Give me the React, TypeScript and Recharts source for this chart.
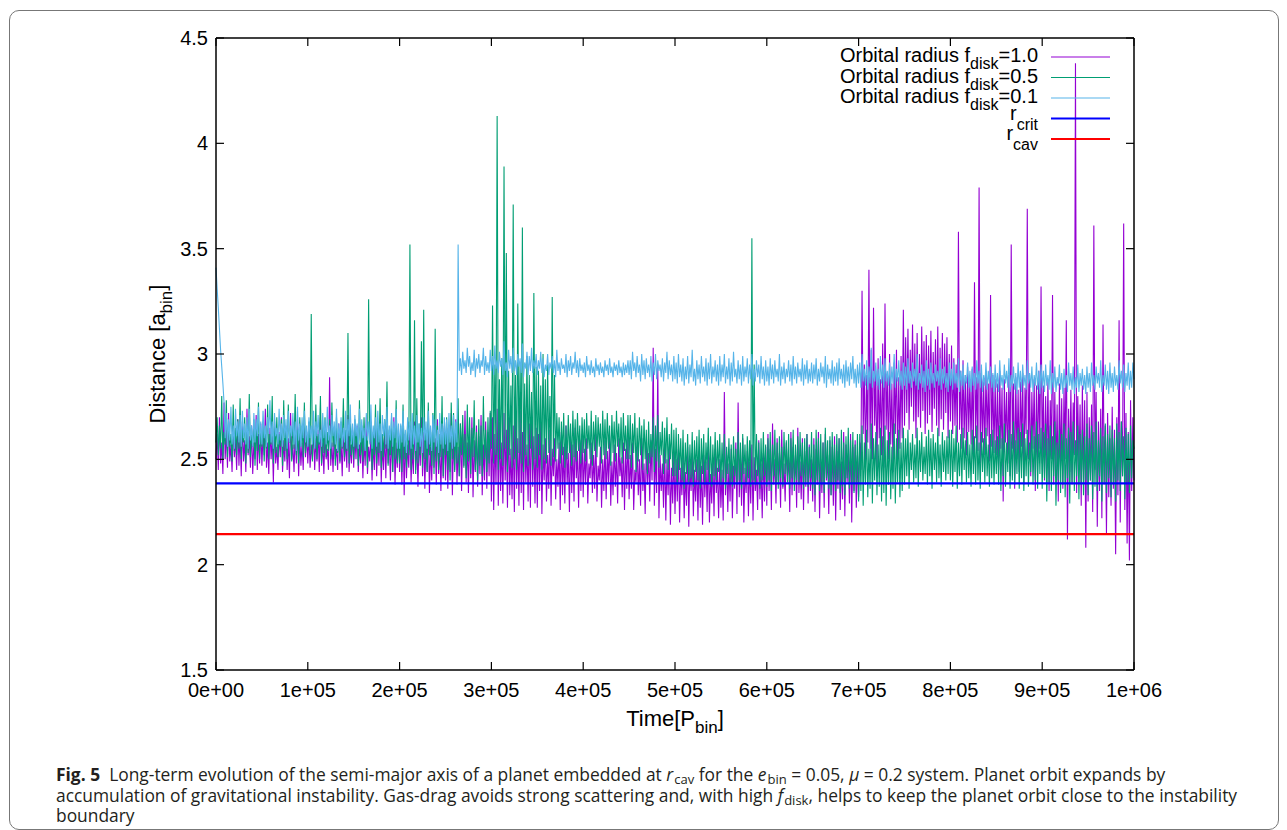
import { LineChart, Line, XAxis, YAxis, ReferenceLine } from 'recharts';

// time grid step of the sampled orbits (P_bin)
const timeStep = 1250;

const xTicks = [0, 100000, 200000, 300000, 400000, 500000, 600000, 700000, 800000, 900000, 1000000];
const yTicks = [1.5, 2, 2.5, 3, 3.5, 4, 4.5];

const rCrit = 2.386;
const rCav = 2.145;

// orbital radius, f_disk = 1.0 (two lines = 5e4 P_bin)
const fdisk10 = [
  2.50, 2.62, 2.45, 2.70, 2.48, 2.58, 2.43, 2.77, 2.50, 2.64, 2.46, 2.72, 2.49, 2.57, 2.44, 2.66, 2.51, 2.60, 2.45, 2.69,
  2.47, 2.63, 2.42, 2.68, 2.49, 2.59, 2.44, 2.74, 2.52, 2.61, 2.46, 2.66, 2.43, 2.58, 2.50, 2.71, 2.45, 2.62, 2.48, 2.67,
  2.47, 2.62, 2.52, 2.74, 2.46, 2.58, 2.43, 2.65, 2.50, 2.61, 2.39, 2.68, 2.48, 2.56, 2.45, 2.63, 2.51, 2.70, 2.44, 2.59,
  2.49, 2.66, 2.45, 2.60, 2.41, 2.72, 2.50, 2.57, 2.44, 2.64, 2.48, 2.69, 2.42, 2.61, 2.47, 2.58, 2.45, 2.67, 2.51, 2.63,
  2.48, 2.62, 2.46, 2.57, 2.50, 2.66, 2.45, 2.60, 2.49, 2.64, 2.44, 2.70, 2.47, 2.58, 2.43, 2.63, 2.50, 2.55, 2.45, 2.89,
  2.47, 2.58, 2.44, 2.63, 2.50, 2.55, 2.45, 2.67, 2.48, 2.59, 2.42, 2.65, 2.49, 2.60, 2.46, 2.71, 2.44, 2.57, 2.48, 2.64,
  2.46, 2.61, 2.50, 2.66, 2.44, 2.57, 2.48, 2.63, 2.41, 2.59, 2.47, 2.70, 2.43, 2.56, 2.49, 2.62, 2.40, 2.58, 2.45, 2.65,
  2.42, 2.60, 2.47, 2.68, 2.39, 2.57, 2.45, 2.63, 2.41, 2.66, 2.48, 2.59, 2.40, 2.62, 2.44, 2.70, 2.38, 2.58, 2.46, 2.64,
  2.44, 2.60, 2.38, 2.66, 2.33, 2.62, 2.41, 2.57, 2.46, 2.66, 2.39, 2.55, 2.43, 2.68, 2.45, 2.58, 2.37, 2.61, 2.47, 2.70,
  2.42, 2.63, 2.36, 2.59, 2.44, 2.67, 2.34, 2.56, 2.40, 2.64, 2.46, 2.60, 2.38, 2.69, 2.43, 2.57, 2.35, 2.62, 2.41, 2.66,
  2.40, 2.65, 2.36, 2.58, 2.44, 2.72, 2.33, 2.60, 2.45, 2.69, 2.38, 2.56, 2.42, 2.67, 2.35, 2.62, 2.47, 2.73, 2.39, 2.58,
  2.34, 2.64, 2.41, 2.70, 2.32, 2.59, 2.44, 2.66, 2.37, 2.61, 2.43, 2.71, 2.33, 2.57, 2.40, 2.68, 2.36, 2.63, 2.42, 2.72,
  2.30, 2.70, 2.26, 2.62, 2.38, 2.74, 2.28, 2.68, 2.35, 2.58, 2.29, 2.72, 2.40, 2.64, 2.27, 2.70, 2.33, 2.55, 2.31, 2.66,
  2.25, 2.71, 2.36, 2.60, 2.28, 2.73, 2.34, 2.63, 2.26, 2.69, 2.39, 2.57, 2.30, 2.67, 2.27, 2.74, 2.37, 2.61, 2.29, 2.65,
  2.27, 2.62, 2.35, 2.68, 2.24, 2.57, 2.40, 2.60, 2.30, 2.52, 2.36, 2.64, 2.28, 2.55, 2.42, 2.60, 2.31, 2.50, 2.37, 2.58,
  2.26, 2.63, 2.33, 2.56, 2.29, 2.66, 2.38, 2.53, 2.25, 2.61, 2.34, 2.57, 2.30, 2.65, 2.41, 2.54, 2.27, 2.59, 2.35, 2.62,
  2.32, 2.55, 2.38, 2.60, 2.29, 2.48, 2.41, 2.58, 2.34, 2.52, 2.36, 2.62, 2.30, 2.47, 2.40, 2.56, 2.27, 2.50, 2.35, 2.59,
  2.31, 2.54, 2.39, 2.61, 2.28, 2.49, 2.33, 2.57, 2.37, 2.53, 2.29, 2.60, 2.42, 2.51, 2.32, 2.58, 2.26, 2.55, 2.36, 2.62,
  2.31, 2.52, 2.36, 2.58, 2.26, 2.45, 2.39, 2.56, 2.33, 2.50, 2.28, 2.60, 2.35, 2.48, 2.24, 2.57, 2.38, 2.53, 2.30, 2.59,
  2.40, 3.03, 2.28, 2.55, 2.34, 2.95, 2.22, 2.52, 2.35, 2.48, 2.27, 2.57, 2.21, 2.50, 2.33, 2.56, 2.19, 2.46, 2.29, 2.54,
  2.24, 2.50, 2.30, 2.55, 2.20, 2.46, 2.33, 2.52, 2.22, 2.44, 2.28, 2.56, 2.18, 2.48, 2.35, 2.53, 2.23, 2.45, 2.30, 2.50,
  2.21, 2.54, 2.27, 2.47, 2.19, 2.52, 2.32, 2.49, 2.25, 2.56, 2.20, 2.43, 2.29, 2.51, 2.23, 2.55, 2.34, 2.46, 2.22, 2.50,
  2.27, 2.45, 2.21, 2.82, 2.33, 2.52, 2.25, 2.48, 2.30, 2.55, 2.22, 2.47, 2.36, 2.58, 2.24, 2.77, 2.32, 2.50, 2.28, 2.60,
  2.20, 2.46, 2.34, 2.54, 2.23, 2.49, 2.29, 2.57, 2.21, 2.51, 2.35, 2.45, 2.26, 2.59, 2.31, 2.48, 2.22, 2.53, 2.30, 2.56,
  2.28, 2.62, 2.35, 2.55, 2.26, 2.67, 2.38, 2.50, 2.29, 2.60, 2.40, 2.53, 2.27, 2.64, 2.36, 2.48, 2.30, 2.58, 2.42, 2.51,
  2.25, 2.63, 2.33, 2.56, 2.39, 2.52, 2.27, 2.65, 2.34, 2.49, 2.31, 2.60, 2.26, 2.54, 2.37, 2.62, 2.29, 2.57, 2.35, 2.50,
  2.30, 2.60, 2.25, 2.55, 2.38, 2.63, 2.22, 2.50, 2.34, 2.58, 2.27, 2.62, 2.40, 2.52, 2.24, 2.59, 2.33, 2.56, 2.28, 2.61,
  2.21, 2.54, 2.36, 2.60, 2.26, 2.49, 2.31, 2.63, 2.23, 2.57, 2.39, 2.53, 2.29, 2.62, 2.20, 2.56, 2.35, 2.59, 2.27, 2.52,
  2.32, 2.58, 2.45, 3.30, 2.62, 2.95, 2.48, 2.90, 2.58, 3.40, 2.55, 3.02, 2.50, 3.22, 2.66, 2.92, 2.42, 2.98, 2.60, 2.88,
  2.52, 3.05, 2.46, 3.24, 2.64, 2.90, 2.50, 3.00, 2.57, 2.86, 2.44, 2.96, 2.62, 3.02, 2.49, 2.89, 2.55, 2.99, 2.60, 3.21,
  2.66, 3.08, 2.72, 3.12, 2.64, 3.02, 2.75, 3.14, 2.68, 3.05, 2.60, 3.10, 2.70, 3.00, 2.65, 3.13, 2.73, 3.06, 2.62, 3.09,
  2.67, 3.04, 2.71, 3.11, 2.63, 3.01, 2.74, 3.07, 2.66, 3.13, 2.61, 3.03, 2.69, 3.10, 2.64, 3.05, 2.72, 3.08, 2.60, 3.00,
  2.68, 3.04, 2.62, 2.98, 2.66, 2.95, 2.58, 3.58, 2.64, 2.92, 2.55, 2.97, 2.60, 2.90, 2.52, 2.94, 2.63, 2.88, 2.57, 2.93,
  2.50, 3.34, 2.60, 2.89, 2.54, 3.79, 2.48, 2.91, 2.58, 2.87, 2.52, 2.92, 2.61, 2.86, 2.49, 3.28, 2.56, 2.90, 2.53, 2.88,
  2.52, 2.86, 2.45, 2.92, 2.55, 2.84, 2.30, 2.88, 2.58, 2.82, 2.48, 2.90, 2.42, 3.52, 2.55, 2.86, 2.36, 2.89, 2.50, 2.83,
  2.44, 2.87, 2.56, 2.91, 2.38, 2.84, 2.62, 3.69, 2.50, 2.90, 2.42, 2.82, 2.55, 2.88, 2.35, 2.85, 2.48, 2.92, 2.55, 3.32,
  2.48, 2.85, 2.40, 2.80, 2.46, 2.88, 2.35, 2.78, 2.50, 3.28, 2.38, 2.82, 2.44, 2.76, 2.30, 2.86, 2.47, 2.79, 2.36, 2.84,
  2.50, 3.16, 2.12, 2.74, 2.44, 2.83, 2.38, 2.77, 2.52, 4.38, 2.34, 2.80, 2.45, 2.76, 2.28, 2.85, 2.40, 2.78, 2.08, 2.82,
  2.30, 2.70, 2.40, 2.76, 2.25, 3.61, 2.45, 2.82, 2.18, 2.68, 2.35, 2.74, 2.22, 3.14, 2.38, 2.66, 2.15, 2.72, 2.32, 2.60,
  2.28, 2.75, 2.36, 2.64, 2.05, 2.70, 2.33, 3.16, 2.20, 2.68, 2.42, 3.62, 2.26, 2.72, 2.10, 2.63, 2.02, 2.78, 2.35, 2.70,
  2.40,
];

// orbital radius, f_disk = 0.5
const fdisk05 = [
  2.58, 2.70, 2.52, 2.66, 2.55, 2.80, 2.50, 2.63, 2.57, 2.78, 2.51, 2.68, 2.56, 2.62, 2.49, 2.76, 2.54, 2.65, 2.52, 2.69,
  2.55, 2.79, 2.50, 2.64, 2.58, 2.70, 2.48, 2.66, 2.53, 2.81, 2.51, 2.62, 2.56, 2.69, 2.47, 2.65, 2.54, 2.77, 2.50, 2.63,
  2.56, 2.68, 2.49, 2.64, 2.55, 2.76, 2.50, 2.62, 2.57, 2.80, 2.48, 2.66, 2.53, 2.70, 2.51, 2.62, 2.56, 2.69, 2.47, 2.78,
  2.54, 2.65, 2.50, 2.76, 2.58, 2.63, 2.49, 2.68, 2.55, 2.81, 2.52, 2.64, 2.48, 2.70, 2.56, 2.66, 2.51, 2.77, 2.53, 2.62,
  2.56, 2.68, 2.52, 3.19, 2.49, 2.64, 2.55, 2.76, 2.50, 2.62, 2.57, 2.80, 2.48, 2.66, 2.53, 2.70, 2.51, 2.63, 2.54, 2.69,
  2.50, 2.77, 2.56, 2.65, 2.47, 2.70, 2.53, 2.62, 2.49, 2.68, 2.55, 2.79, 2.51, 2.64, 2.54, 3.10, 2.48, 2.67, 2.52, 2.63,
  2.50, 2.69, 2.55, 2.64, 2.47, 2.78, 2.52, 2.66, 2.49, 2.70, 2.54, 2.61, 2.46, 3.26, 2.58, 2.68, 2.45, 2.63, 2.52, 2.76,
  2.48, 2.66, 2.53, 2.79, 2.46, 2.62, 2.51, 2.69, 2.55, 2.87, 2.47, 2.64, 2.52, 2.70, 2.44, 2.65, 2.50, 2.78, 2.48, 2.62,
  2.48, 2.66, 2.44, 2.76, 2.50, 2.62, 2.46, 2.68, 2.52, 3.52, 2.45, 2.64, 2.50, 3.16, 2.43, 2.79, 2.48, 2.67, 2.52, 3.06,
  2.46, 3.21, 2.50, 2.64, 2.44, 2.77, 2.52, 2.63, 2.47, 2.72, 2.43, 3.12, 2.49, 2.66, 2.45, 2.62, 2.51, 2.80, 2.42, 2.65,
  2.52, 2.70, 2.45, 2.66, 2.40, 2.77, 2.50, 2.72, 2.44, 2.64, 2.48, 2.79, 2.42, 2.67, 2.52, 2.71, 2.46, 2.62, 2.41, 2.76,
  2.49, 2.70, 2.43, 2.65, 2.51, 2.78, 2.45, 2.63, 2.40, 2.69, 2.47, 2.66, 2.42, 2.80, 2.50, 2.64, 2.44, 2.70, 2.48, 2.73,
  2.55, 3.23, 2.48, 2.95, 2.52, 4.13, 2.45, 2.88, 2.50, 2.98, 2.47, 3.89, 2.55, 3.48, 2.44, 2.92, 2.52, 2.85, 2.46, 3.71,
  2.50, 2.90, 2.45, 3.24, 2.53, 2.96, 2.48, 3.60, 2.44, 2.86, 2.52, 2.99, 2.47, 2.90, 2.55, 2.82, 2.45, 3.29, 2.50, 2.94,
  2.46, 2.92, 2.52, 2.85, 2.45, 3.00, 2.50, 2.88, 2.48, 2.95, 2.53, 2.80, 2.47, 3.27, 2.51, 2.90, 2.49, 2.72, 2.55, 2.70,
  2.48, 2.68, 2.52, 2.72, 2.46, 2.66, 2.50, 2.71, 2.53, 2.67, 2.47, 2.73, 2.51, 2.69, 2.49, 2.72, 2.54, 2.66, 2.48, 2.70,
  2.53, 2.69, 2.49, 2.72, 2.55, 2.66, 2.50, 2.73, 2.47, 2.68, 2.54, 2.71, 2.51, 2.70, 2.56, 2.67, 2.48, 2.73, 2.52, 2.69,
  2.50, 2.72, 2.55, 2.66, 2.47, 2.71, 2.53, 2.68, 2.49, 2.73, 2.56, 2.67, 2.51, 2.70, 2.48, 2.72, 2.54, 2.66, 2.50, 2.71,
  2.50, 2.71, 2.46, 2.67, 2.53, 2.72, 2.44, 2.65, 2.49, 2.70, 2.52, 2.66, 2.45, 2.69, 2.50, 2.64, 2.43, 2.68, 2.48, 2.62,
  2.51, 2.70, 2.44, 2.66, 2.49, 2.71, 2.46, 2.63, 2.52, 2.68, 2.43, 2.65, 2.48, 2.70, 2.45, 2.62, 2.50, 2.67, 2.42, 2.64,
  2.42, 2.65, 2.38, 2.62, 2.45, 2.60, 2.40, 2.64, 2.36, 2.58, 2.43, 2.62, 2.39, 2.57, 2.41, 2.63, 2.37, 2.59, 2.44, 2.61,
  2.40, 2.64, 2.36, 2.60, 2.43, 2.62, 2.38, 2.58, 2.45, 2.65, 2.39, 2.61, 2.37, 2.57, 2.42, 2.63, 2.40, 2.59, 2.44, 2.62,
  2.38, 2.58, 2.41, 2.62, 2.36, 2.56, 2.43, 2.60, 2.39, 2.57, 2.37, 2.61, 2.42, 2.55, 2.38, 2.63, 2.40, 2.58, 2.36, 2.62,
  2.43, 2.57, 2.39, 2.61, 2.41, 2.59, 2.37, 3.55, 2.40, 2.95, 2.38, 2.62, 2.42, 2.58, 2.36, 2.60, 2.40, 2.63, 2.42, 2.57,
  2.37, 2.60, 2.40, 2.63, 2.35, 2.57, 2.42, 2.64, 2.38, 2.58, 2.36, 2.61, 2.41, 2.56, 2.37, 2.63, 2.43, 2.59, 2.39, 2.62,
  2.36, 2.60, 2.41, 2.64, 2.35, 2.57, 2.40, 2.61, 2.38, 2.63, 2.42, 2.58, 2.36, 2.60, 2.39, 2.62, 2.37, 2.56, 2.41, 2.63,
  2.36, 2.57, 2.33, 2.64, 2.40, 2.60, 2.35, 2.62, 2.38, 2.58, 2.34, 2.65, 2.41, 2.59, 2.36, 2.61, 2.33, 2.63, 2.39, 2.57,
  2.35, 2.62, 2.40, 2.60, 2.34, 2.64, 2.37, 2.58, 2.33, 2.61, 2.41, 2.65, 2.36, 2.59, 2.38, 2.63, 2.34, 2.57, 2.39, 2.62,
  2.30, 2.62, 2.35, 2.66, 2.28, 2.58, 2.38, 2.64, 2.32, 2.55, 2.36, 2.67, 2.29, 2.60, 2.40, 2.63, 2.33, 2.57, 2.37, 2.65,
  2.30, 2.61, 2.34, 2.66, 2.28, 2.59, 2.38, 2.63, 2.31, 2.56, 2.36, 2.67, 2.29, 2.60, 2.39, 2.64, 2.32, 2.58, 2.35, 2.65,
  2.38, 2.60, 2.42, 2.64, 2.36, 2.58, 2.45, 2.62, 2.39, 2.57, 2.41, 2.65, 2.37, 2.59, 2.44, 2.63, 2.40, 2.56, 2.43, 2.61,
  2.38, 2.64, 2.42, 2.60, 2.36, 2.62, 2.45, 2.58, 2.39, 2.65, 2.41, 2.57, 2.37, 2.63, 2.44, 2.59, 2.40, 2.61, 2.43, 2.64,
  2.40, 2.64, 2.37, 2.60, 2.44, 2.66, 2.36, 2.58, 2.42, 2.62, 2.38, 2.65, 2.45, 2.59, 2.39, 2.63, 2.41, 2.57, 2.37, 2.64,
  2.43, 2.61, 2.38, 2.66, 2.40, 2.58, 2.36, 2.63, 2.44, 2.60, 2.39, 2.65, 2.42, 2.57, 2.37, 2.62, 2.41, 2.64, 2.38, 2.59,
  2.43, 2.61, 2.38, 2.66, 2.35, 2.60, 2.42, 2.67, 2.37, 2.58, 2.44, 2.64, 2.36, 2.62, 2.40, 2.68, 2.38, 2.59, 2.43, 2.65,
  2.36, 2.63, 2.41, 2.67, 2.35, 2.60, 2.42, 2.64, 2.37, 2.58, 2.44, 2.66, 2.38, 2.61, 2.40, 2.68, 2.36, 2.62, 2.43, 2.65,
  2.36, 2.63, 2.41, 2.67, 2.30, 2.60, 2.39, 2.66, 2.35, 2.61, 2.42, 2.68, 2.28, 2.58, 2.40, 2.64, 2.34, 2.62, 2.38, 2.67,
  2.32, 2.60, 2.41, 2.65, 2.29, 2.63, 2.39, 2.68, 2.35, 2.59, 2.42, 2.66, 2.31, 2.62, 2.38, 2.64, 2.33, 2.61, 2.40, 2.67,
  2.33, 2.60, 2.40, 2.66, 2.31, 2.63, 2.37, 2.68, 2.35, 2.59, 2.42, 2.65, 2.30, 2.61, 2.39, 2.67, 2.34, 2.62, 2.41, 2.66,
  2.32, 2.64, 2.38, 2.60, 2.30, 2.67, 2.40, 2.63, 2.35, 2.68, 2.42, 2.61, 2.31, 2.65, 2.39, 2.62, 2.34, 2.66, 2.41, 2.59,
  2.55,
];

// orbital radius, f_disk = 0.1
const fdisk01 = [
  3.41, 3.31, 3.22, 3.12, 3.02, 2.94, 2.86, 2.77, 2.60, 2.72, 2.56, 2.69, 2.59, 2.75, 2.57, 2.66, 2.55, 2.74, 2.61, 2.68,
  2.58, 2.71, 2.56, 2.73, 2.60, 2.67, 2.57, 2.70, 2.55, 2.74, 2.59, 2.66, 2.56, 2.72, 2.58, 2.69, 2.61, 2.75, 2.57, 2.68,
  2.57, 2.73, 2.60, 2.66, 2.56, 2.70, 2.62, 2.78, 2.58, 2.68, 2.55, 2.72, 2.61, 2.65, 2.57, 2.74, 2.59, 2.67, 2.56, 2.71,
  2.60, 2.69, 2.55, 2.73, 2.58, 2.66, 2.61, 2.72, 2.57, 2.68, 2.54, 2.75, 2.59, 2.67, 2.56, 2.70, 2.60, 2.73, 2.58, 2.66,
  2.56, 2.70, 2.60, 2.66, 2.57, 2.73, 2.55, 2.68, 2.61, 2.71, 2.58, 2.64, 2.56, 2.72, 2.60, 2.69, 2.57, 2.75, 2.59, 2.66,
  2.55, 2.71, 2.61, 2.68, 2.57, 2.74, 2.54, 2.67, 2.60, 2.70, 2.56, 2.65, 2.58, 2.73, 2.55, 2.69, 2.61, 2.76, 2.57, 2.67,
  2.56, 2.71, 2.61, 2.67, 2.55, 2.74, 2.58, 2.69, 2.60, 2.65, 2.54, 2.72, 2.59, 2.68, 2.57, 2.76, 2.55, 2.66, 2.60, 2.70,
  2.56, 2.73, 2.58, 2.67, 2.54, 2.71, 2.61, 2.69, 2.57, 2.75, 2.55, 2.66, 2.59, 2.72, 2.56, 2.68, 2.60, 2.74, 2.55, 2.67,
  2.55, 2.67, 2.58, 2.73, 2.56, 2.64, 2.53, 2.70, 2.59, 2.68, 2.55, 2.72, 2.57, 2.66, 2.54, 2.71, 2.58, 2.67, 2.56, 2.65,
  2.53, 2.70, 2.59, 2.68, 2.55, 2.73, 2.57, 2.66, 2.54, 2.71, 2.58, 2.69, 2.56, 2.64, 2.53, 2.72, 2.57, 2.67, 2.55, 2.70,
  2.57, 2.69, 2.54, 2.72, 2.58, 2.66, 2.55, 2.71, 2.56, 2.68, 2.58, 3.52, 2.92, 2.98, 2.90, 3.01, 2.93, 2.97, 2.91, 3.03,
  2.94, 2.99, 2.90, 2.96, 2.92, 3.02, 2.89, 2.98, 2.93, 3.00, 2.91, 2.97, 2.94, 3.03, 2.90, 2.99, 2.92, 2.96, 2.91, 3.02,
  2.92, 2.99, 2.90, 3.04, 2.93, 2.97, 2.91, 3.01, 2.94, 2.98, 2.90, 3.06, 2.92, 2.96, 2.89, 3.02, 2.93, 2.99, 2.91, 3.03,
  2.92, 2.97, 2.90, 3.00, 2.94, 2.98, 2.91, 3.05, 2.89, 2.96, 2.93, 3.01, 2.90, 2.99, 2.92, 3.03, 2.91, 2.97, 2.93, 3.00,
  2.90, 2.97, 2.93, 3.01, 2.91, 2.98, 2.89, 2.95, 2.92, 3.00, 2.90, 2.96, 2.93, 2.99, 2.91, 2.97, 2.89, 3.02, 2.92, 2.96,
  2.90, 2.98, 2.93, 2.95, 2.91, 3.00, 2.89, 2.97, 2.92, 2.99, 2.90, 2.96, 2.93, 3.01, 2.91, 2.97, 2.89, 2.98, 2.92, 2.95,
  2.91, 2.96, 2.89, 2.99, 2.92, 2.95, 2.90, 2.97, 2.91, 2.94, 2.89, 2.98, 2.92, 2.95, 2.90, 2.96, 2.91, 2.94, 2.89, 2.97,
  2.92, 2.95, 2.90, 2.98, 2.91, 2.94, 2.89, 2.96, 2.92, 2.95, 2.90, 2.97, 2.91, 2.94, 2.89, 2.96, 2.90, 2.95, 2.91, 2.97,
  2.90, 2.97, 2.88, 3.01, 2.92, 2.96, 2.89, 2.99, 2.91, 2.95, 2.87, 3.00, 2.90, 2.97, 2.88, 2.98, 2.91, 2.95, 2.89, 2.99,
  2.87, 2.96, 2.90, 3.00, 2.88, 2.97, 2.92, 2.95, 2.89, 2.98, 2.87, 2.96, 2.91, 3.01, 2.88, 2.97, 2.90, 2.95, 2.87, 2.99,
  2.88, 2.96, 2.86, 3.00, 2.89, 2.95, 2.87, 2.98, 2.85, 2.94, 2.88, 2.99, 2.86, 2.95, 2.89, 3.02, 2.87, 2.93, 2.85, 2.97,
  2.88, 2.95, 2.86, 2.99, 2.89, 2.94, 2.87, 2.98, 2.85, 2.96, 2.88, 3.00, 2.86, 2.94, 2.89, 2.97, 2.87, 2.95, 2.85, 2.99,
  2.87, 2.95, 2.89, 3.00, 2.86, 2.94, 2.88, 2.98, 2.85, 2.96, 2.87, 3.01, 2.89, 2.93, 2.86, 2.97, 2.88, 2.95, 2.85, 2.99,
  2.87, 2.94, 2.89, 2.98, 2.86, 2.95, 2.88, 3.00, 2.85, 2.93, 2.87, 2.97, 2.89, 2.95, 2.86, 2.99, 2.88, 2.94, 2.85, 2.97,
  2.87, 2.94, 2.85, 2.98, 2.88, 2.95, 2.86, 2.97, 2.89, 2.93, 2.87, 3.00, 2.85, 2.94, 2.88, 2.96, 2.86, 2.93, 2.89, 2.97,
  2.87, 2.95, 2.85, 2.99, 2.88, 2.94, 2.86, 2.96, 2.89, 2.93, 2.87, 2.98, 2.85, 2.95, 2.88, 2.97, 2.86, 2.93, 2.87, 2.96,
  2.86, 2.95, 2.88, 2.98, 2.85, 2.93, 2.87, 2.96, 2.89, 2.94, 2.86, 2.99, 2.84, 2.95, 2.88, 2.93, 2.86, 2.97, 2.85, 2.94,
  2.87, 2.96, 2.85, 2.98, 2.88, 2.93, 2.86, 2.95, 2.84, 2.97, 2.87, 2.94, 2.85, 2.96, 2.88, 2.99, 2.86, 2.93, 2.84, 2.95,
  2.86, 2.96, 2.84, 3.00, 2.87, 2.93, 2.85, 2.97, 2.83, 2.94, 2.86, 3.03, 2.84, 2.92, 2.87, 2.96, 2.85, 2.93, 2.83, 2.99,
  2.86, 2.95, 2.84, 2.98, 2.87, 2.92, 2.85, 2.96, 2.83, 2.94, 2.86, 3.00, 2.84, 2.93, 2.87, 2.97, 2.85, 2.92, 2.83, 2.96,
  2.85, 2.94, 2.83, 2.98, 2.86, 2.92, 2.84, 2.96, 2.87, 2.93, 2.85, 3.00, 2.83, 2.91, 2.86, 2.95, 2.84, 2.92, 2.82, 2.97,
  2.85, 2.93, 2.83, 2.96, 2.86, 2.91, 2.84, 2.95, 2.87, 2.92, 2.85, 2.98, 2.83, 2.93, 2.86, 2.94, 2.84, 2.91, 2.82, 2.96,
  2.85, 2.93, 2.83, 2.96, 2.86, 2.91, 2.84, 2.98, 2.82, 2.92, 2.85, 2.95, 2.83, 2.90, 2.86, 2.96, 2.84, 2.92, 2.82, 2.94,
  2.85, 2.91, 2.83, 2.97, 2.86, 2.92, 2.84, 2.95, 2.82, 2.90, 2.85, 2.96, 2.83, 2.92, 2.86, 2.94, 2.84, 2.91, 2.82, 2.95,
  2.84, 2.91, 2.82, 2.97, 2.85, 2.90, 2.83, 2.95, 2.86, 2.92, 2.84, 2.98, 2.82, 2.90, 2.85, 2.94, 2.83, 2.91, 2.81, 2.96,
  2.84, 2.92, 2.82, 2.95, 2.85, 2.90, 2.83, 2.97, 2.86, 2.91, 2.84, 2.94, 2.82, 2.90, 2.85, 2.96, 2.83, 2.92, 2.81, 2.95,
  2.84, 2.92, 2.82, 2.95, 2.85, 2.90, 2.83, 2.97, 2.81, 2.91, 2.84, 2.94, 2.82, 2.89, 2.85, 2.95, 2.83, 2.91, 2.81, 2.93,
  2.84, 2.90, 2.82, 2.96, 2.85, 2.91, 2.83, 2.94, 2.81, 2.89, 2.84, 2.95, 2.82, 2.91, 2.85, 2.93, 2.83, 2.90, 2.81, 2.94,
  2.84, 2.91, 2.82, 2.96, 2.85, 2.90, 2.83, 2.94, 2.86, 2.91, 2.84, 2.97, 2.82, 2.90, 2.85, 2.95, 2.83, 2.92, 2.81, 2.96,
  2.84, 2.91, 2.82, 2.94, 2.85, 2.90, 2.83, 2.97, 2.86, 2.92, 2.84, 2.95, 2.82, 2.91, 2.85, 2.96, 2.83, 2.92, 2.84, 2.96,
  2.88,
];

const rows = fdisk10.map((v, i) => ({
  t: i * timeStep,
  f10: v,
  f05: fdisk05[i],
  f01: fdisk01[i],
}));

function sci(v: number) {
  const [m, e] = v.toExponential().split('e');
  return `${m}e${e[0]}${e.slice(1).padStart(2, '0')}`;
}

const plotFont = '"Liberation Sans", Arial, Helvetica, sans-serif';
const tickStyle = { fontSize: 20, fill: '#000', fontFamily: plotFont };

// plot box size, used to mirror the inward ticks on the top / right edges
const plotW = 918;
const plotH = 632;
const tickLen = 8;

function BottomTick(props: any) {
  const { x, y, payload } = props;
  return (
    <g>
      <line x1={x} x2={x} y1={y} y2={y - tickLen} stroke="#000" strokeWidth={1.2} />
      <line x1={x} x2={x} y1={y - plotH} y2={y - plotH + tickLen} stroke="#000" strokeWidth={1.2} />
      <text x={x} y={y + 27} textAnchor="middle" {...tickStyle}>
        {sci(payload.value)}
      </text>
    </g>
  );
}

function LeftTick(props: any) {
  const { x, y, payload } = props;
  return (
    <g>
      <line x1={x} x2={x + tickLen} y1={y} y2={y} stroke="#000" strokeWidth={1.2} />
      <line x1={x + plotW} x2={x + plotW - tickLen} y1={y} y2={y} stroke="#000" strokeWidth={1.2} />
      <text x={x - 8} y={y + 7} textAnchor="end" {...tickStyle}>
        {payload.value}
      </text>
    </g>
  );
}

const legendRows = [
  { label: 'Orbital radius f', sub: 'disk', tail: '=1.0', color: '#9400d3', width: 1.2, y: 57, base: 62, subDy: 7 },
  { label: 'Orbital radius f', sub: 'disk', tail: '=0.5', color: '#009e73', width: 1.2, y: 77.5, base: 82.5, subDy: 7 },
  { label: 'Orbital radius f', sub: 'disk', tail: '=0.1', color: '#56b4e9', width: 1.2, y: 98, base: 103, subDy: 7 },
  { label: 'r', sub: 'crit', tail: '', color: '#0000ff', width: 2.2, y: 118.5, base: 119.5, subDy: 10 },
  { label: 'r', sub: 'cav', tail: '', color: '#ff0000', width: 2.2, y: 139, base: 140, subDy: 10 },
];

const captionFont = '"Open Sans", "Noto Sans", sans-serif';

function Sub({ children }: { children: string }) {
  return (
    <span style={{ fontSize: '0.75em', verticalAlign: '-0.25em', lineHeight: 1, fontStyle: 'normal', marginLeft: 1 }}>
      {children}
    </span>
  );
}

const captionLine = {
  position: 'absolute' as const,
  left: 56,
  fontFamily: captionFont,
  fontSize: 17.4,
  lineHeight: '20px',
  color: '#231f20',
  whiteSpace: 'nowrap' as const,
};

const seriesWidth = 1.1;

export default function App() {
  return (
    <div style={{ position: 'fixed', left: 0, top: 0, width: 1287, height: 830, overflow: 'hidden', background: '#fff' }}>
      <div
        style={{
          position: 'absolute',
          left: 9,
          top: 10,
          width: 1268,
          height: 818,
          border: '1.5px solid #777',
          borderRadius: 10,
        }}
      />
      <div style={{ position: 'absolute', left: 0, top: 0 }}>
        <LineChart width={1200} height={720} data={rows} margin={{ top: 38, right: 66, bottom: 20, left: 156 }}>
          <XAxis
            dataKey="t"
            type="number"
            domain={[0, 1000000]}
            ticks={xTicks}
            interval={0}
            tick={<BottomTick />}
            tickLine={false}
            tickSize={0}
            tickMargin={0}
            height={30}
            stroke="#000"
            strokeWidth={1.5}
          />
          <YAxis
            type="number"
            domain={[1.5, 4.5]}
            ticks={yTicks}
            interval={0}
            tick={<LeftTick />}
            tickLine={false}
            tickSize={0}
            tickMargin={0}
            width={60}
            stroke="#000"
            strokeWidth={1.5}
          />
          <Line dataKey="f10" type="linear" stroke="#9400d3" strokeWidth={seriesWidth} dot={false} isAnimationActive={false} />
          <Line dataKey="f05" type="linear" stroke="#009e73" strokeWidth={seriesWidth} dot={false} isAnimationActive={false} />
          <Line dataKey="f01" type="linear" stroke="#56b4e9" strokeWidth={seriesWidth} dot={false} isAnimationActive={false} />
          <ReferenceLine y={rCrit} stroke="#0000ff" strokeWidth={2.2} />
          <ReferenceLine y={rCav} stroke="#ff0000" strokeWidth={2.2} />
          <ReferenceLine y={4.5} stroke="#000" strokeWidth={1.5} />
          <ReferenceLine x={1000000} stroke="#000" strokeWidth={1.5} />
        </LineChart>
      </div>
      <svg
        width={1287}
        height={830}
        style={{ position: 'absolute', left: 0, top: 0, pointerEvents: 'none' }}
        fontFamily={plotFont}
      >
        {legendRows.map((r) => (
          <g key={r.label + r.sub + r.tail}>
            <text x={1038} y={r.base} textAnchor="end" fontSize={20} fill="#000">
              {r.label}
              <tspan dy={r.subDy} fontSize={16}>{r.sub}</tspan>
              {r.tail ? <tspan dy={-r.subDy} fontSize={20}>{r.tail}</tspan> : null}
            </text>
            <line x1={1051} x2={1110} y1={r.y} y2={r.y} stroke={r.color} strokeWidth={r.width} />
          </g>
        ))}
        <text transform="translate(165,354) rotate(-90)" textAnchor="middle" fontSize={22} fill="#000">
          Distance [a<tspan dy={7} fontSize={17}>bin</tspan><tspan dy={-7}>]</tspan>
        </text>
        <text x={675} y={726} textAnchor="middle" fontSize={22} fill="#000">
          Time[P<tspan dy={7} fontSize={17}>bin</tspan><tspan dy={-7}>]</tspan>
        </text>
      </svg>
      <div style={{ ...captionLine, top: 764 }}>
        <b>Fig. 5</b>&nbsp; Long-term evolution of the semi-major axis of a planet embedded at <i>r</i>
        <Sub>cav</Sub> for the <i>e</i>
        <Sub>bin</Sub> = 0.05, <i>μ</i> = 0.2 system. Planet orbit expands by
      </div>
      <div style={{ ...captionLine, top: 784.5 }}>
        accumulation of gravitational instability. Gas-drag avoids strong scattering and, with high <i>f</i>
        <Sub>disk</Sub>, helps to keep the planet orbit close to the instability
      </div>
      <div style={{ ...captionLine, top: 805 }}>boundary</div>
    </div>
  );
}
